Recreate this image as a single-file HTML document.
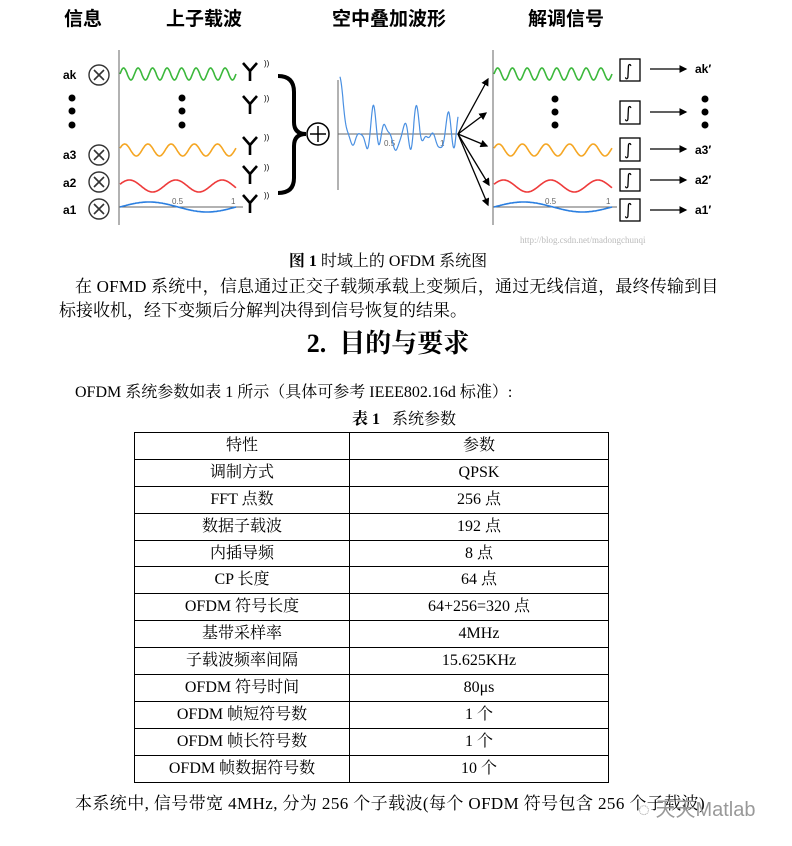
<!DOCTYPE html>
<html><head><meta charset="utf-8">
<style>
body{margin:0;background:#fff;width:792px;height:846px;position:relative;overflow:hidden;font-family:"Liberation Serif","Noto Serif CJK SC","Noto Sans CJK SC",serif;color:#000}
.t{position:absolute;white-space:nowrap;font-size:16px;line-height:20px}
table{position:absolute;left:134px;top:432px;border-collapse:collapse;font-size:16px}
td{border:1.5px solid #000;height:25.9px;padding:0;text-align:center;line-height:18px}
</style></head><body>
<svg id="d" width="792" height="245" style="position:absolute;left:0;top:0" font-family="'Liberation Sans','Noto Sans CJK SC',sans-serif">
<g font-weight="bold" font-size="19">
<text x="64" y="25">信息</text><text x="166" y="25">上子载波</text><text x="332" y="25">空中叠加波形</text><text x="528" y="25">解调信号</text>
</g>
<g font-weight="bold" font-size="12">
<text x="63" y="79">ak</text><text x="63" y="159">a3</text><text x="63" y="187">a2</text><text x="63" y="214">a1</text>
<text x="695" y="73">ak′</text><text x="695" y="154">a3′</text><text x="695" y="184">a2′</text><text x="695" y="214">a1′</text>
</g>
<g fill="none" stroke="#333" stroke-width="1.4">
<circle cx="99" cy="75" r="10"/><circle cx="99" cy="155" r="10"/><circle cx="99" cy="182" r="10"/><circle cx="99" cy="209" r="10"/>
</g>
<g stroke="#333" stroke-width="1.6">
<path d="M94 70L104 80M104 70L94 80"/><path d="M94 150L104 160M104 150L94 160"/><path d="M94 177L104 187M104 177L94 187"/><path d="M94 204L104 214M104 204L94 214"/>
</g>
<g fill="#000">
<circle cx="72" cy="98" r="3.5"/><circle cx="72" cy="111" r="3.5"/><circle cx="72" cy="125" r="3.5"/>
<circle cx="182" cy="98" r="3.5"/><circle cx="182" cy="111" r="3.5"/><circle cx="182" cy="125" r="3.5"/>
<circle cx="555" cy="99" r="3.5"/><circle cx="555" cy="112" r="3.5"/><circle cx="555" cy="125" r="3.5"/>
<circle cx="705" cy="99" r="3.5"/><circle cx="705" cy="112" r="3.5"/><circle cx="705" cy="125" r="3.5"/>
</g>
<g stroke="#666" stroke-width="1">
<line x1="119" y1="50" x2="119" y2="225"/><line x1="119" y1="207" x2="243" y2="207"/>
<line x1="493" y1="50" x2="493" y2="225"/><line x1="493" y1="207" x2="617" y2="207"/>
<line x1="338" y1="80" x2="338" y2="190"/><line x1="338" y1="134" x2="460" y2="134"/>
</g>
<g font-size="8" fill="#666"><text x="172" y="204">0.5</text><text x="231" y="204">1</text><text x="545" y="204">0.5</text><text x="606" y="204">1</text><text x="384" y="146">0.5</text><text x="440" y="146">1</text></g>
<g stroke="#000" stroke-width="2.6" fill="none">
<path d="M243 63L250 71L257 63M250 71V81"/><path d="M243 96L250 104L257 96M250 104V114"/><path d="M243 137L250 145L257 137M250 145V155"/><path d="M243 166L250 174L257 166M250 174V184"/><path d="M243 195L250 203L257 195M250 203V213"/>
</g>
<g font-size="8"><text x="264" y="66">))</text><text x="264" y="101">))</text><text x="264" y="140">))</text><text x="264" y="170">))</text><text x="264" y="198">))</text></g>
<path d="M278 76 Q294 76 294 92 L294 122 Q294 134 306 134 Q294 134 294 146 L294 178 Q294 193 278 193" fill="none" stroke="#000" stroke-width="4"/>
<circle cx="318" cy="134" r="11" fill="none" stroke="#000" stroke-width="1.5"/>
<line x1="310" y1="134" x2="326" y2="134" stroke="#000" stroke-width="1.5"/><line x1="318" y1="126" x2="318" y2="142" stroke="#000" stroke-width="1.5"/>
<g stroke="#000" stroke-width="1.3" fill="none">
<rect x="620" y="59" width="20" height="22"/><rect x="620" y="101" width="20" height="23"/><rect x="620" y="138" width="20" height="23"/><rect x="620" y="169" width="20" height="22"/><rect x="620" y="199" width="20" height="22"/>
</g>
<g font-size="16" font-family="'DejaVu Sans',sans-serif"><text x="624" y="76">∫</text><text x="624" y="118">∫</text><text x="624" y="155">∫</text><text x="624" y="185">∫</text><text x="624" y="215">∫</text></g>
<defs><marker id="a" markerWidth="6" markerHeight="6" refX="5" refY="3" orient="auto"><path d="M0,0 L6,3 L0,6z" fill="#000"/></marker></defs>
<g stroke="#000" stroke-width="1.3" marker-end="url(#a)">
<line x1="650" y1="69" x2="686" y2="69"/><line x1="650" y1="112" x2="686" y2="112"/><line x1="650" y1="149" x2="686" y2="149"/><line x1="650" y1="180" x2="686" y2="180"/><line x1="650" y1="210" x2="686" y2="210"/>
<line x1="458" y1="134" x2="488" y2="79"/><line x1="458" y1="134" x2="486" y2="113"/><line x1="458" y1="134" x2="487" y2="146"/><line x1="458" y1="134" x2="489" y2="185"/><line x1="458" y1="134" x2="488" y2="205"/>
</g>
<g id="w" fill="none" stroke-width="1.6"></g>
</svg>
<script>
function wave(x0,x1,yc,amp,cyc,ph,col){var d='';for(var i=0;i<=200;i++){var t=i/200,x=x0+(x1-x0)*t,y=yc-amp*Math.sin(2*Math.PI*cyc*t+ph);d+=(i?'L':'M')+x.toFixed(1)+' '+y.toFixed(1);}return '<path d="'+d+'" stroke="'+col+'"/>';}
var s='';
[[120,236],[494,612]].forEach(function(r){
s+=wave(r[0],r[1],74,6,8,0,'#3cb83c');
s+=wave(r[0],r[1],150,6,5,0.3,'#f5a623');
s+=wave(r[0],r[1],186,6,2.5,0.3,'#ee3b3b');
s+=wave(r[0],r[1],207,5,1,0,'#2b7fe0');});
var d='';for(var i=0;i<=300;i++){var t=i/300,x=340+118*t;var y=134-(40*Math.exp(-30*t)+11*Math.sin(2*Math.PI*8*t)+7*Math.sin(2*Math.PI*11*t+1)+8*Math.sin(2*Math.PI*3*t+2)+4*Math.cos(2*Math.PI*14*t));d+=(i?'L':'M')+x.toFixed(1)+' '+y.toFixed(1);}
s+='<path d="'+d+'" stroke="#4a90e2" stroke-width="1.2"/>';
document.getElementById('w').innerHTML=s;
</script>
<div class="t" style="top:230px;color:#bbb;font-size:9px;left:520px">http://blog.csdn.net/madongchunqi</div>
<div class="t" style="left:0;width:776px;text-align:center;top:252px"><b>图 1</b> 时域上的 OFDM 系统图</div>
<div class="t" style="left:75px;top:277px;font-size:17px;letter-spacing:0.2px">在 OFMD 系统中，信息通过正交子载频承载上变频后，通过无线信道，最终传输到目</div>
<div class="t" style="left:59px;top:301px;font-size:17px">标接收机，经下变频后分解判决得到信号恢复的结果。</div>
<div class="t" style="left:0;width:776px;text-align:center;top:329px;font-size:26px;line-height:30px;font-weight:bold">2.&nbsp; 目的与要求</div>
<div class="t" style="left:75px;top:383px">OFDM 系统参数如表 1 所示（具体可参考 IEEE802.16d 标准）:</div>
<div class="t" style="left:0;width:808px;text-align:center;top:410px"><b>表 1</b>&nbsp;&nbsp; 系统参数</div>
<table>
<tr><td style="width:214px">特性</td><td style="width:258px">参数</td></tr>
<tr><td>调制方式</td><td>QPSK</td></tr>
<tr><td>FFT 点数</td><td>256 点</td></tr>
<tr><td>数据子载波</td><td>192 点</td></tr>
<tr><td>内插导频</td><td>8 点</td></tr>
<tr><td>CP 长度</td><td>64 点</td></tr>
<tr><td>OFDM 符号长度</td><td>64+256=320 点</td></tr>
<tr><td>基带采样率</td><td>4MHz</td></tr>
<tr><td>子载波频率间隔</td><td>15.625KHz</td></tr>
<tr><td>OFDM 符号时间</td><td>80μs</td></tr>
<tr><td>OFDM 帧短符号数</td><td>1 个</td></tr>
<tr><td>OFDM 帧长符号数</td><td>1 个</td></tr>
<tr><td>OFDM 帧数据符号数</td><td>10 个</td></tr>
</table>
<div class="t" style="left:75px;top:794px;font-size:17px;letter-spacing:0.4px">本系统中, 信号带宽 4MHz, 分为 256 个子载波(每个 OFDM 符号包含 256 个子载波)</div>
<div class="t" style="left:638px;top:798px;font-family:'Liberation Sans','Noto Sans CJK SC',sans-serif;color:#999;font-size:20px;line-height:24px">◌ 天天Matlab</div>
</body></html>
